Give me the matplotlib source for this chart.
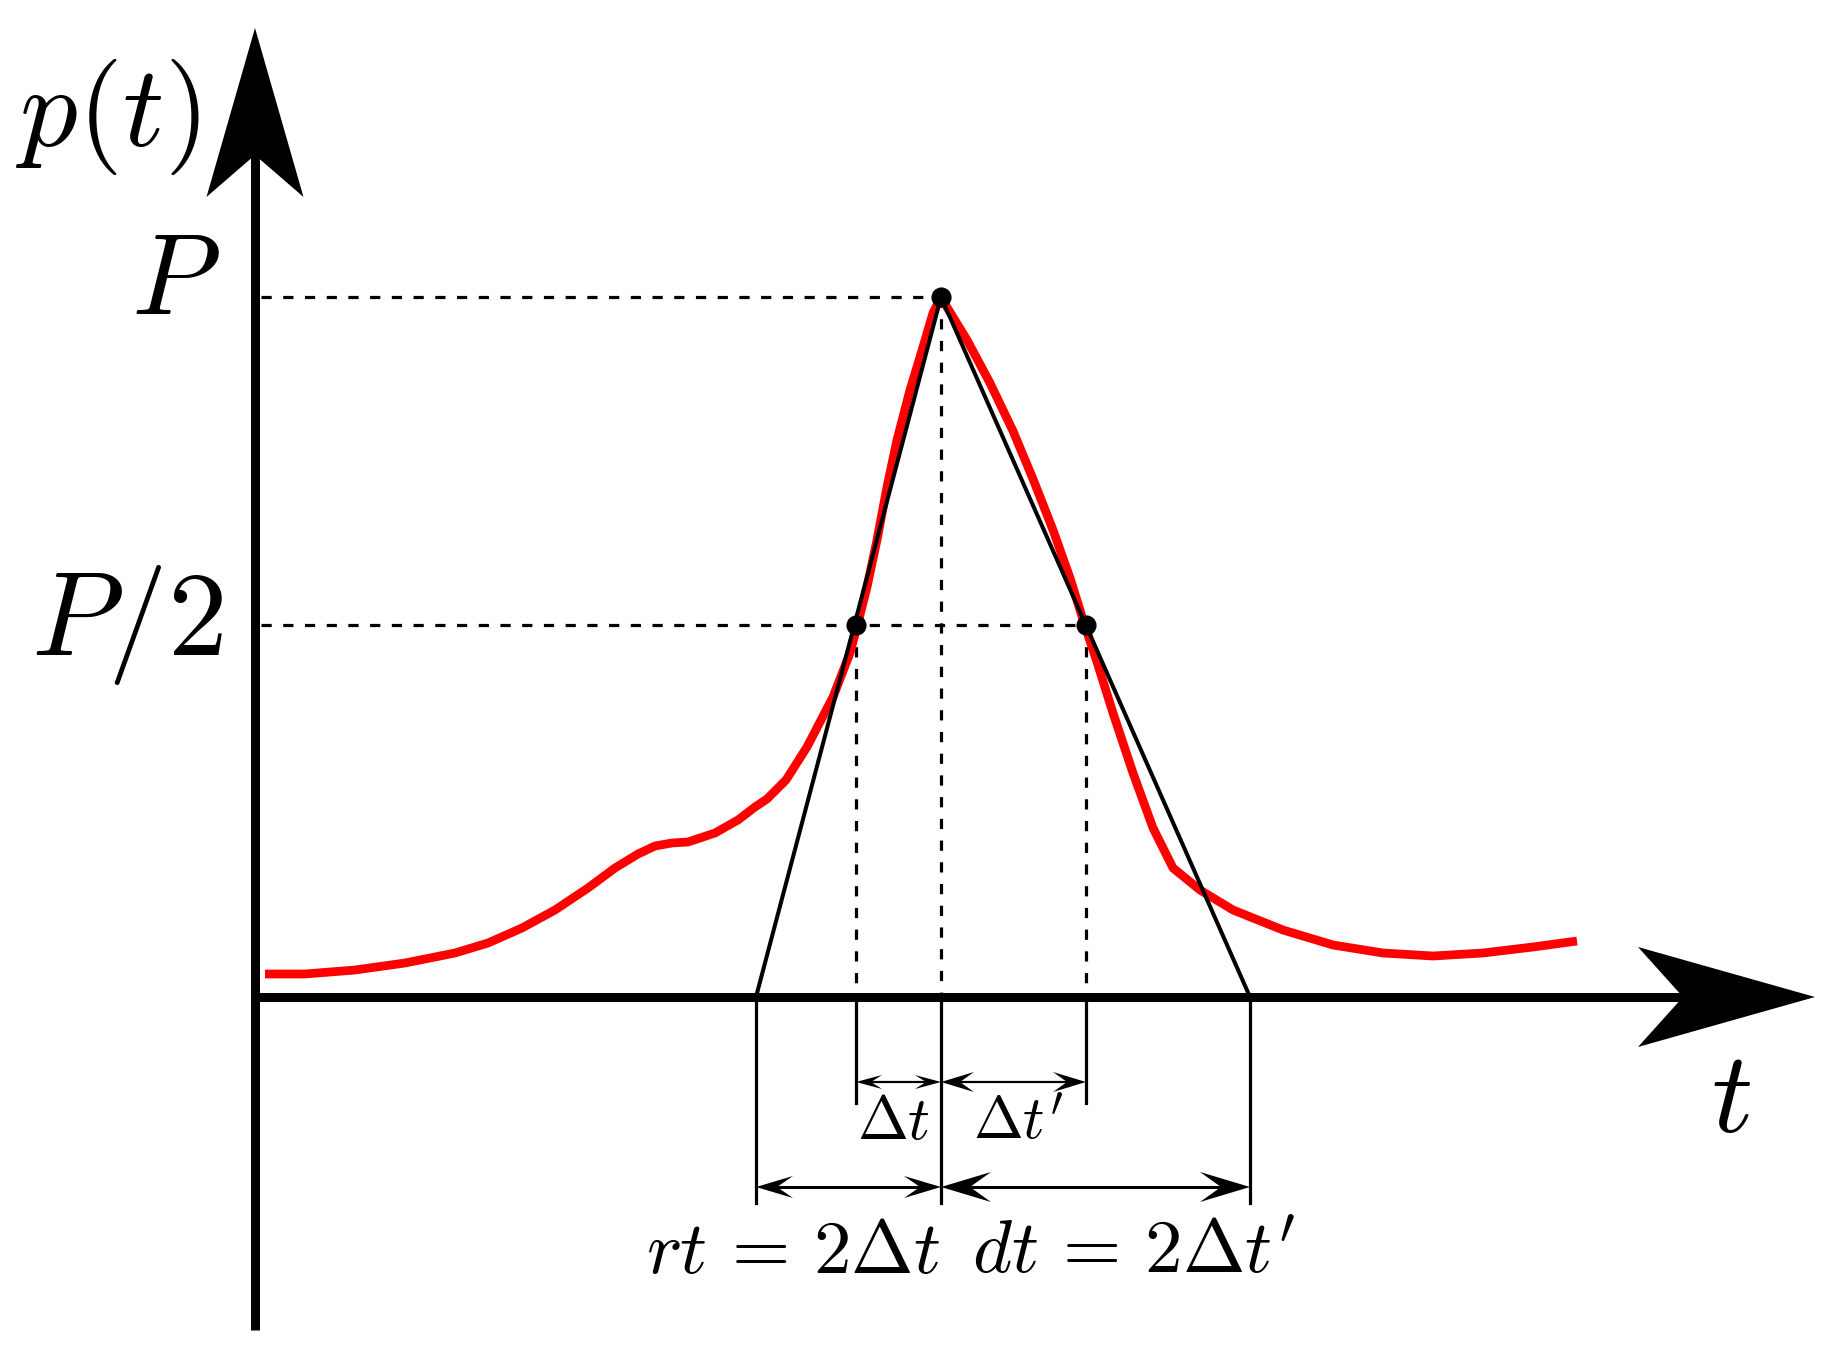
import matplotlib
matplotlib.use("Agg")
import matplotlib.pyplot as plt
import numpy as np
from matplotlib.patches import Polygon

plt.rcParams['mathtext.fontset'] = 'cm'

# red pulse p(t) (t, p in arbitrary units)
curve_t = [0.10, 0.50, 1.00, 1.50, 2.00, 2.33, 2.67, 3.00, 3.33, 3.60, 3.83, 4.00,
           4.17, 4.33, 4.60, 4.83, 5.00, 5.12, 5.31, 5.52, 5.78, 5.95, 6.03, 6.12,
           6.22, 6.32, 6.42, 6.55, 6.68, 6.78, 6.86,
           6.90, 7.12, 7.35, 7.58, 7.78, 7.98, 8.15, 8.30, 8.42, 8.58, 8.78, 8.98,
           9.18, 9.45, 9.78, 10.28, 10.78, 11.28, 11.78, 12.28, 12.78, 13.22]
curve_p = [0.23, 0.23, 0.27, 0.34, 0.44, 0.54, 0.69, 0.87, 1.09, 1.29, 1.43, 1.51,
           1.54, 1.55, 1.64, 1.77, 1.90, 1.98, 2.17, 2.50, 3.00, 3.44, 3.74, 4.10,
           4.57, 5.10, 5.57, 6.07, 6.50, 6.84, 7.00,
           6.93, 6.57, 6.14, 5.66, 5.18, 4.67, 4.19, 3.71, 3.35, 2.84, 2.24, 1.69,
           1.29, 1.07, 0.87, 0.67, 0.52, 0.44, 0.41, 0.44, 0.50, 0.56]

peak_t, peak_p = 6.86, 7.00
half_t = [6.01, 8.31]
half_p = 3.72
base_t = [5.01, 9.95]

t_axis_end = 15.60
p_axis_end = 9.69
p_axis_bottom = -3.33

dim_small_y = -0.85   # Δt, Δt' arrows
dim_big_y = -1.90     # rt, dt arrows
small_ext = -1.06
big_ext = -2.06

axis_labels = [r"$p(t)$", r"$P$", r"$P/2$", r"$t$"]
dim_labels = [r"$\Delta t$", r"$\Delta t'$", r"$rt\,=\,2\Delta t$", r"$dt\,=\,2\Delta t'$"]


def stealth(ax, tip, direction, length, half, notch, z=5):
    tx, ty = tip
    dx, dy = direction
    nx, ny = -dy, dx
    pts = [(tx, ty),
           (tx - dx * length + nx * half, ty - dy * length + ny * half),
           (tx - dx * notch, ty - dy * notch),
           (tx - dx * length - nx * half, ty - dy * length - ny * half)]
    ax.add_patch(Polygon(pts, closed=True, fc='black', ec='none', zorder=z))


def dim_arrow(ax, t0, t1, y, length, half, notch, lw):
    ax.plot([t0 + notch, t1 - notch], [y, y], color='black', lw=lw, zorder=4)
    stealth(ax, (t1, y), (1, 0), length, half, notch)
    stealth(ax, (t0, y), (-1, 0), length, half, notch)


fig = plt.figure(figsize=(18.33, 13.53), dpi=100)
ax = fig.add_axes([0, 0, 1, 1])
ax.set_xlim(-2.55, 15.78)
ax.set_ylim(-3.56, 9.97)
ax.axis('off')

# axes with big arrows
ax.plot([0, t_axis_end - 1.3], [0, 0], color='black', lw=6.5, solid_capstyle='butt', zorder=3)
ax.plot([0, 0], [p_axis_bottom, p_axis_end - 1.25], color='black', lw=6.5,
        solid_capstyle='butt', zorder=3)
stealth(ax, (t_axis_end, 0), (1, 0), 1.77, 0.50, 1.32)
stealth(ax, (0, p_axis_end), (0, 1), 1.69, 0.485, 1.27)

# red curve
ax.plot(curve_t, curve_p, color='#ff0000', lw=6.3, solid_capstyle='butt',
        solid_joinstyle='round', zorder=2)

# triangle approximation
ax.plot([base_t[0], peak_t, base_t[1]], [0, peak_p, 0], color='black', lw=2.9, zorder=3)

# dashed guides
dash = dict(color='black', lw=2.3, dashes=(3.2, 3.6), zorder=1)
ax.plot([0.06, peak_t], [peak_p, peak_p], **dash)
ax.plot([0.06, half_t[1]], [half_p, half_p], **dash)
ax.plot([peak_t, peak_t], [peak_p, 0], **dash)
for ht in half_t:
    ax.plot([ht, ht], [half_p, 0], **dash)

# markers
ax.plot([peak_t] + half_t, [peak_p, half_p, half_p], 'o', color='black', ms=13.5, zorder=6)

# extension lines below the axis
for ht in half_t:
    ax.plot([ht, ht], [0, small_ext], color='black', lw=2.3, zorder=3)
for bt in base_t + [peak_t]:
    ax.plot([bt, bt], [0, big_ext], color='black', lw=2.3, zorder=3)

# dimension arrows
dim_arrow(ax, half_t[0], peak_t, dim_small_y, 0.26, 0.07, 0.15, 1.6)
dim_arrow(ax, peak_t, half_t[1], dim_small_y, 0.33, 0.10, 0.19, 1.6)
dim_arrow(ax, base_t[0], peak_t, dim_big_y, 0.37, 0.11, 0.21, 2.2)
dim_arrow(ax, peak_t, base_t[1], dim_big_y, 0.50, 0.15, 0.29, 2.2)

# labels
ax.text(-1.47, 8.80, axis_labels[0], fontsize=83, ha='center', va='center')
ax.text(-0.80, 7.15, axis_labels[1], fontsize=83, ha='center', va='center')
ax.text(-1.28, 3.72, axis_labels[2], fontsize=86, ha='center', va='center')
ax.text(14.76, -1.03, axis_labels[3], fontsize=83, ha='center', va='center')

ax.text(6.39, -1.26, dim_labels[0], fontsize=44, ha='center', va='center')
ax.text(7.63, -1.26, dim_labels[1], fontsize=43, ha='center', va='center')
ax.text(5.38, -2.56, dim_labels[2], fontsize=54, ha='center', va='center')
ax.text(8.79, -2.56, dim_labels[3], fontsize=54, ha='center', va='center')

fig.savefig('out.png', dpi=100, facecolor='white')
